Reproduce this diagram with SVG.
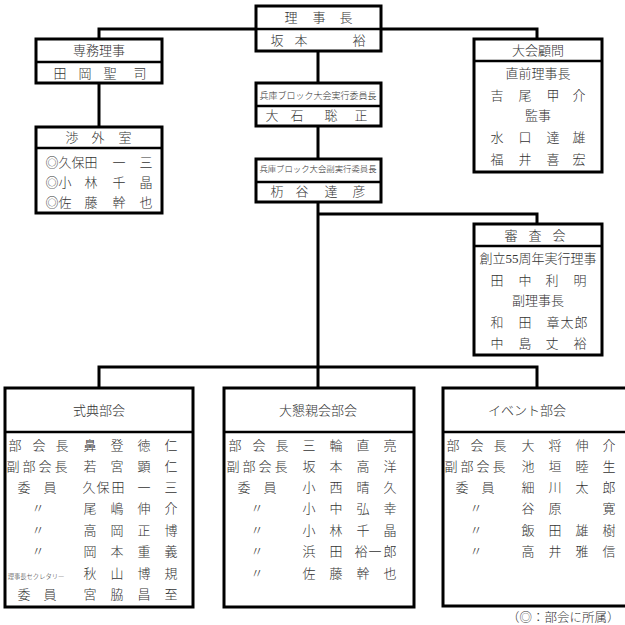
<svg xmlns="http://www.w3.org/2000/svg" width="625" height="625" viewBox="0 0 625 625">
<style>
.box{fill:#fff;stroke:#000;stroke-width:3}
.div{stroke:#000;stroke-width:2.5}
.conn{fill:none;stroke:#000;stroke-width:3}
text{font-family:"Liberation Serif","Noto Sans CJK JP",serif;fill:#333;font-size:13px;font-weight:300;text-anchor:middle}
.s9{font-size:9px}
.s85{font-size:8.4px}
.tiny{font-size:6.3px}
</style>
<rect width="625" height="625" fill="#fff"/>
<g id="connectors">
<path class="conn" d="M99 39V29H256M381 29H537V39"/>
<path class="conn" d="M99 83V127"/>
<path class="conn" d="M318 51V83M318 126V159M318 202V367"/>
<path class="conn" d="M318 214H537V224"/>
<path class="conn" d="M99 388V367H537V388M318 367V388"/>
</g>
<g id="chairman">
<rect class="box" x="256" y="6" width="125" height="45"/>
<line class="div" x1="256" y1="29" x2="381" y2="29"/>
<text x="291 319 346" y="22">理事長</text>
<text x="277 301 359" y="45">坂本裕</text>
</g>
<g id="senmu">
<rect class="box" x="36" y="39" width="126" height="44"/>
<line class="div" x1="36" y1="62" x2="162" y2="62"/>
<text x="99" y="55">専務理事</text>
<text x="60 85 110 140" y="78">田岡聖司</text>
</g>
<g id="shogai">
<rect class="box" x="36" y="127" width="126" height="86"/>
<line class="div" x1="36" y1="148" x2="162" y2="148"/>
<text x="72 98 125" y="142">渉外室</text>
<text x="52 65 78 91 119 146" y="167">◎久保田一三</text>
<text x="52 65 91 119 146" y="187">◎小林千晶</text>
<text x="52 65 91 119 146" y="207">◎佐藤幹也</text>
</g>
<g id="exec">
<rect class="box" x="256" y="83" width="125" height="43"/>
<line class="div" x1="256" y1="106" x2="381" y2="106"/>
<text class="s9" x="318" y="98.5">兵庫ブロック大会実行委員長</text>
<text x="272 297 331 361" y="120">大石聡正</text>
</g>
<g id="vice-exec">
<rect class="box" x="256" y="159" width="125" height="43"/>
<line class="div" x1="256" y1="182" x2="381" y2="182"/>
<text class="s85" x="318" y="171.5">兵庫ブロック大会副実行委員長</text>
<text x="277 302 331 359" y="196">杤谷達彦</text>
</g>
<g id="advisor">
<rect class="box" x="474" y="39" width="128" height="133"/>
<line class="div" x1="474" y1="61" x2="602" y2="61"/>
<text x="538" y="55">大会顧問</text>
<text x="538" y="78">直前理事長</text>
<text x="497 525 553 579" y="100">吉尾甲介</text>
<text x="538" y="120">監事</text>
<text x="497 525 553 579" y="142">水口達雄</text>
<text x="497 525 553 579" y="164">福井喜宏</text>
</g>
<g id="review">
<rect class="box" x="474" y="224" width="128" height="131"/>
<line class="div" x1="474" y1="246" x2="602" y2="246"/>
<text x="511 535 559" y="240">審査会</text>
<text x="538" y="263">創立55周年実行理事</text>
<text x="497 525 552 580" y="285">田中利明</text>
<text x="538" y="305">副理事長</text>
<text x="497 525 553 567 581" y="327">和田章太郎</text>
<text x="497 525 552 580" y="348">中島丈裕</text>
</g>
<g id="shikiten">
<rect class="box" x="5" y="388" width="188" height="219"/>
<line class="div" x1="5" y1="432" x2="193" y2="432"/>
<text x="99" y="415">式典部会</text>
<text x="15 39 62 90 117 144 171" y="450">部会長鼻登徳仁</text>
<text x="13 29 45 61 90 117 144 171" y="471">副部会長若宮顕仁</text>
<text x="24 50 89 103 118 144 171" y="492">委員久保田一三</text>
<text x="38 90 117 144 171" y="513">〃尾嶋伸介</text>
<text x="38 90 117 144 171" y="535">〃高岡正博</text>
<text x="38 90 117 144 171" y="556">〃岡本重義</text>
<text class="tiny" x="36" y="579">理事長セクレタリー</text>
<text x="90 117 144 171" y="578">秋山博規</text>
<text x="24 50 90 117 144 171" y="599">委員宮脇昌至</text>
</g>
<g id="konshin">
<rect class="box" x="224" y="388" width="190" height="219"/>
<line class="div" x1="224" y1="432" x2="414" y2="432"/>
<text x="318" y="415">大懇親会部会</text>
<text x="235 259 282 309 336 363 390" y="450">部会長三輪直亮</text>
<text x="233 249 265 281 309 336 363 390" y="471">副部会長坂本高洋</text>
<text x="244 270 309 336 363 390" y="492">委員小西晴久</text>
<text x="257 309 336 363 390" y="513">〃小中弘幸</text>
<text x="257 309 336 363 390" y="535">〃小林千晶</text>
<text x="257 309 336 361 375 390" y="556">〃浜田裕一郎</text>
<text x="257 309 336 363 390" y="578">〃佐藤幹也</text>
</g>
<g id="event">
<rect class="box" x="443" y="388" width="200" height="218"/>
<line class="div" x1="443" y1="432" x2="643" y2="432"/>
<text x="527" y="415">イベント部会</text>
<text x="453 477 500 528 555 582 609" y="450">部会長大将伸介</text>
<text x="451 467 483 499 528 555 582 609" y="471">副部会長池垣睦生</text>
<text x="462 488 528 555 582 609" y="492">委員細川太郎</text>
<text x="476 528 555 609" y="513">〃谷原寛</text>
<text x="476 528 555 582 609" y="535">〃飯田雄樹</text>
<text x="476 528 555 582 609" y="556">〃高井雅信</text>
</g>
<text x="507" y="622" style="font-size:12.5px;text-anchor:start">（◎：部会に所属）</text>
</svg>
